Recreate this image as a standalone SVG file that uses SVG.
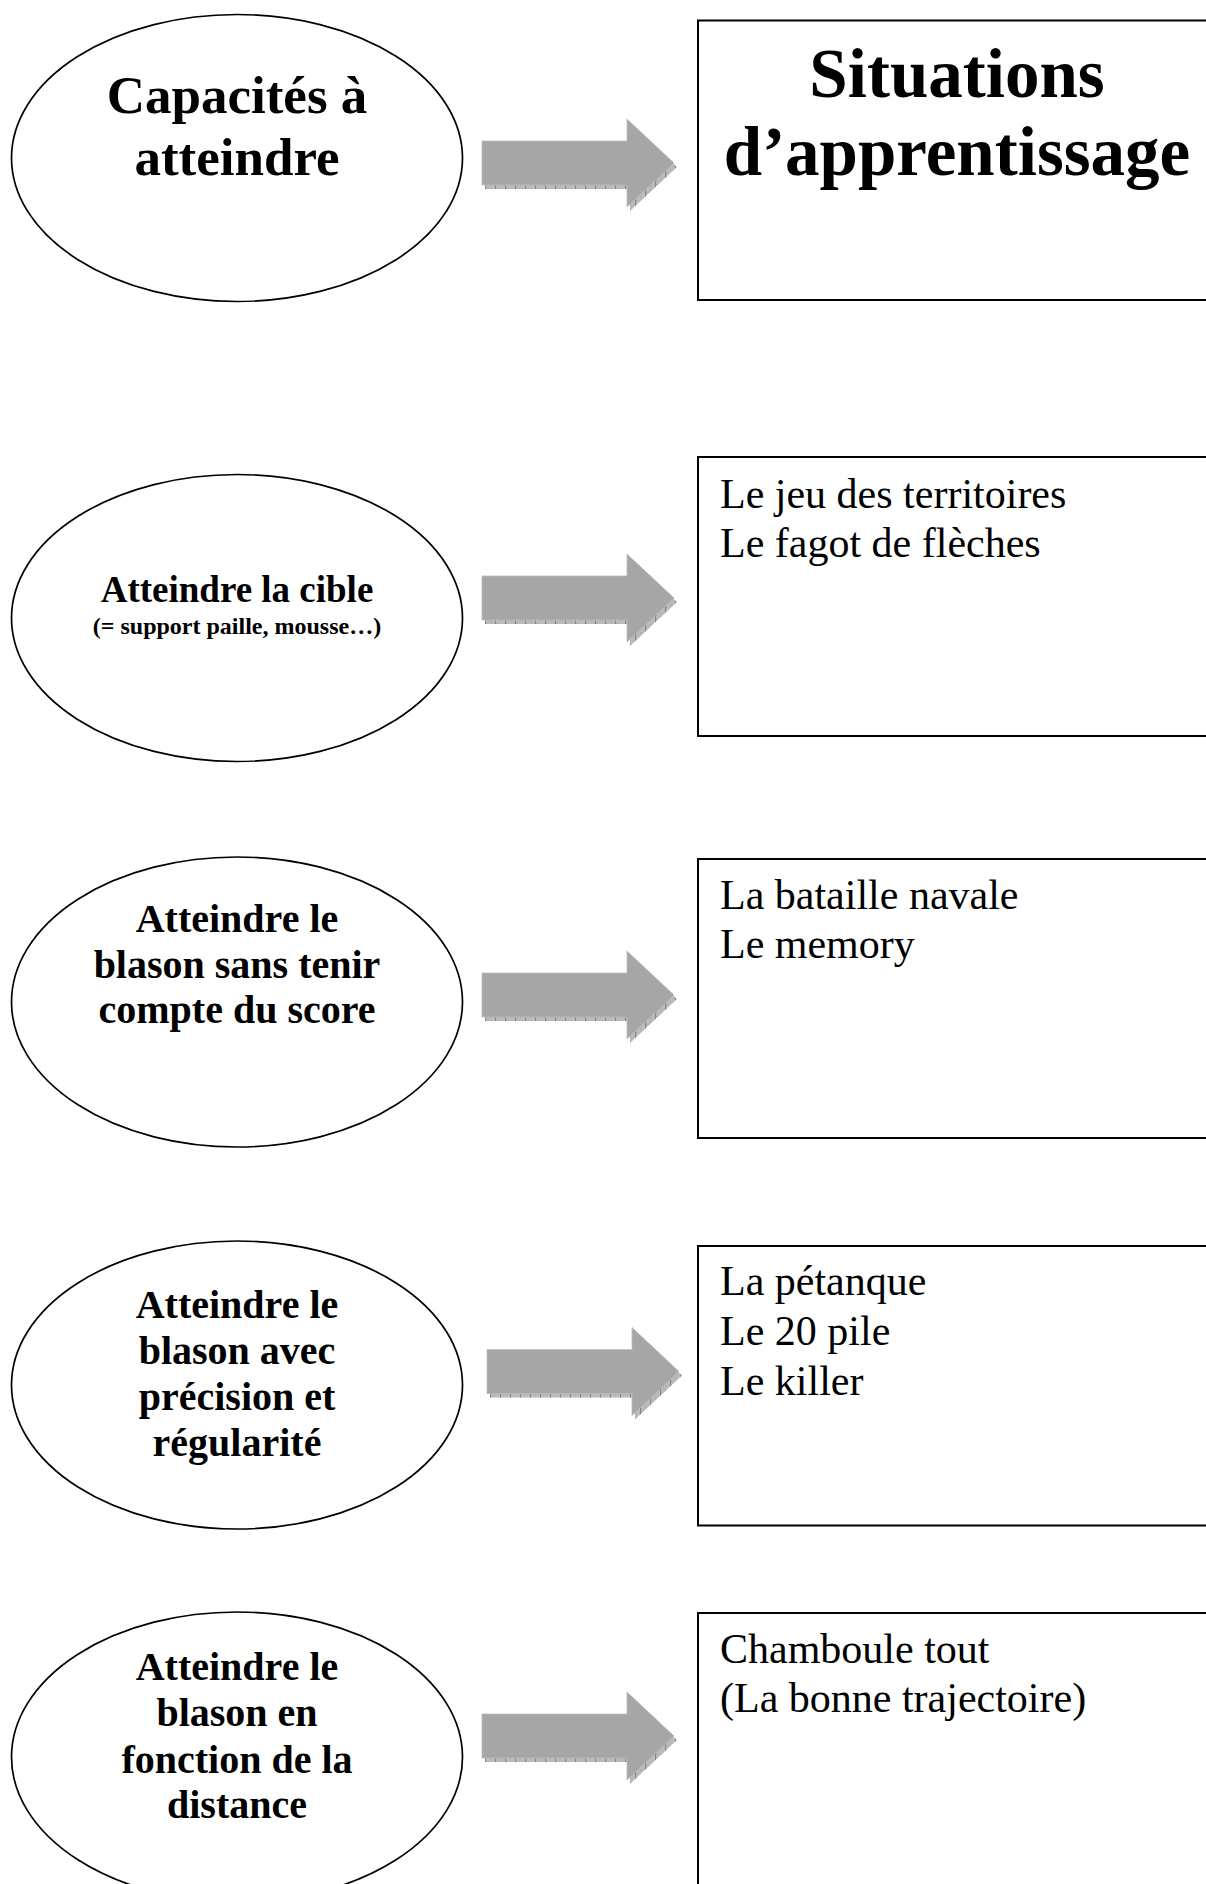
<svg xmlns="http://www.w3.org/2000/svg" xmlns:xlink="http://www.w3.org/1999/xlink" width="1206" height="1884" viewBox="0 0 1206 1884">
<style>
.ell{fill:#fff;stroke:#000;stroke-width:1.7}
.box{fill:#fff;stroke:#000;stroke-width:2}
.bt{font-family:"Liberation Serif","Times New Roman",serif;font-weight:bold;fill:#000;text-anchor:middle}
.rt{font-family:"Liberation Serif","Times New Roman",serif;font-size:42px;fill:#000}
.arr{fill:#a6a6a6;stroke:#bdbdbd;stroke-width:0.8}
.shd{fill:url(#hatch)}
</style>
<defs>
<pattern id="hatch" patternUnits="userSpaceOnUse" width="10" height="4">
<rect width="10" height="4" fill="#bababa"/>
<rect x="1" y="1" width="1" height="1" fill="#a0a0a0"/>
<rect x="5" y="2" width="1" height="1" fill="#a0a0a0"/>
<rect x="0" y="0" width="1" height="4" fill="#858585"/>
</pattern>
<path id="arrowShape" d="M0,22 H145 V0 L192,44 L145,88 V66 H0 Z"/>
</defs>
<rect width="1206" height="1884" fill="#fff"/>

<g id="node-cap">
<ellipse class="ell" cx="237" cy="158" rx="225.5" ry="143.5"/>
<text class="bt" x="237" y="113" font-size="53">Capacités à</text>
<text class="bt" x="237" y="175" font-size="53">atteindre</text>
</g>
<g id="node-sit">
<rect class="box" x="698" y="20.5" width="520" height="279.5"/>
<text class="bt" x="957" y="96.5" font-size="69">Situations</text>
<text class="bt" x="957" y="175" font-size="69">d’apprentissage</text>
</g>

<g id="node-cible">
<ellipse class="ell" cx="237" cy="618" rx="225.5" ry="143.5"/>
<text class="bt" x="237" y="602" font-size="37">Atteindre la cible</text>
<text class="bt" x="237" y="634" font-size="24">(= support paille, mousse…)</text>
</g>
<g id="node-sit1">
<rect class="box" x="698" y="457" width="520" height="279"/>
<text class="rt" x="720" y="507.5">Le jeu des territoires</text>
<text class="rt" x="720" y="557">Le fagot de flèches</text>
</g>

<g id="node-blason1">
<ellipse class="ell" cx="237" cy="1002" rx="225.5" ry="145"/>
<text class="bt" x="237" y="932" font-size="40">Atteindre le</text>
<text class="bt" x="237" y="977.5" font-size="40">blason sans tenir</text>
<text class="bt" x="237" y="1023" font-size="40">compte du score</text>
</g>
<g id="node-sit2">
<rect class="box" x="698" y="859" width="520" height="279"/>
<text class="rt" x="720" y="908.5">La bataille navale</text>
<text class="rt" x="720" y="958">Le memory</text>
</g>

<g id="node-blason2">
<ellipse class="ell" cx="237" cy="1385" rx="225.5" ry="144"/>
<text class="bt" x="237" y="1317.5" font-size="40">Atteindre le</text>
<text class="bt" x="237" y="1363.5" font-size="40">blason avec</text>
<text class="bt" x="237" y="1410" font-size="40">précision et</text>
<text class="bt" x="237" y="1456" font-size="40">régularité</text>
</g>
<g id="node-sit3">
<rect class="box" x="698" y="1246" width="520" height="279.5"/>
<text class="rt" x="720" y="1295">La pétanque</text>
<text class="rt" x="720" y="1345">Le 20 pile</text>
<text class="rt" x="720" y="1394.5">Le killer</text>
</g>

<g id="node-blason3">
<ellipse class="ell" cx="237" cy="1757" rx="225.5" ry="145"/>
<text class="bt" x="237" y="1680" font-size="40">Atteindre le</text>
<text class="bt" x="237" y="1726" font-size="40">blason en</text>
<text class="bt" x="237" y="1773" font-size="40">fonction de la</text>
<text class="bt" x="237" y="1818" font-size="40">distance</text>
</g>
<g id="node-sit4">
<rect class="box" x="698" y="1613" width="520" height="290"/>
<text class="rt" x="720" y="1663">Chamboule tout</text>
<text class="rt" x="720" y="1712">(La bonne trajectoire)</text>
</g>

<g id="connectors">
<g transform="translate(482,119)"><use xlink:href="#arrowShape" class="shd" transform="translate(3,4)"/><use xlink:href="#arrowShape" class="arr"/></g>
<g transform="translate(482,554)"><use xlink:href="#arrowShape" class="shd" transform="translate(3,4)"/><use xlink:href="#arrowShape" class="arr"/></g>
<g transform="translate(482,951)"><use xlink:href="#arrowShape" class="shd" transform="translate(3,4)"/><use xlink:href="#arrowShape" class="arr"/></g>
<g transform="translate(487,1327.5)"><use xlink:href="#arrowShape" class="shd" transform="translate(3,4)"/><use xlink:href="#arrowShape" class="arr"/></g>
<g transform="translate(482,1692)"><use xlink:href="#arrowShape" class="shd" transform="translate(3,4)"/><use xlink:href="#arrowShape" class="arr"/></g>
</g>
</svg>
